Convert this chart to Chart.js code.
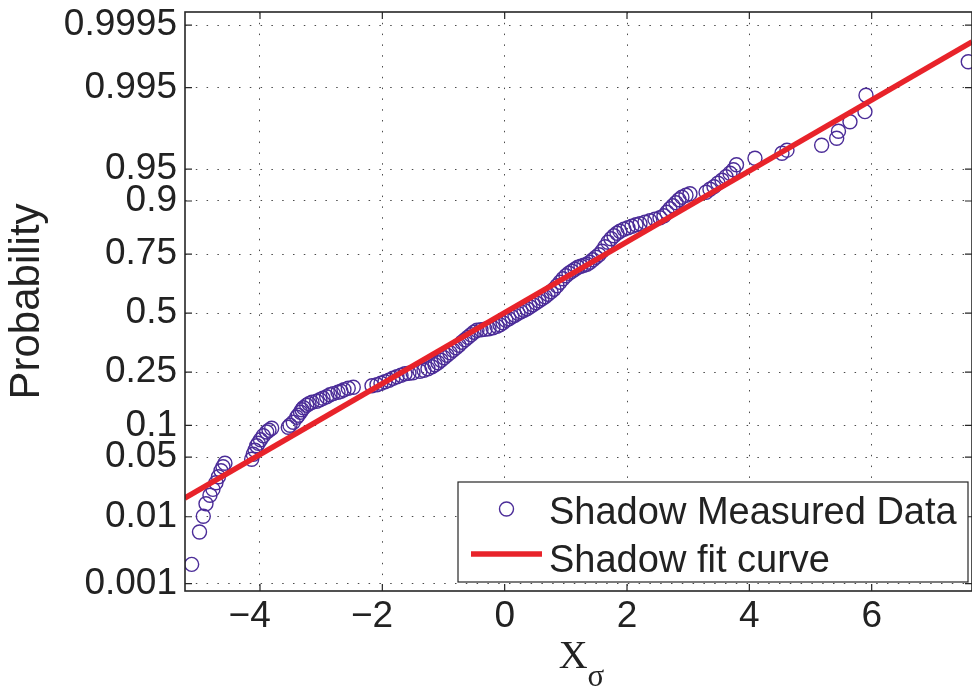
<!DOCTYPE html>
<html>
<head>
<meta charset="utf-8">
<script src="https://cdn.jsdelivr.net/npm/chart.js@4"></script>
<style>
  html, body { margin: 0; padding: 0; background: #fff; }
  canvas { display: block; }
</style>
</head>
<body>
<canvas id="normPlot" width="972" height="686"></canvas>
<script>
// axis ticks
const xTicks = [-4, -2, 0, 2, 4, 6];
const probTicks = [0.001, 0.01, 0.05, 0.1, 0.25, 0.5, 0.75, 0.9, 0.95, 0.995, 0.9995];
const probLabels = ['0.001', '0.01', '0.05', '0.1', '0.25', '0.5', '0.75', '0.9', '0.95', '0.995', '0.9995'];
const xLimits = [-5.226, 7.64];
const probLimits = [0.00075, 0.99971];

// measured shadowing (dB) vs. normal quantile of its plotting position
const measuredX = [
  -5.117, -4.989, -4.927, -4.883, -4.818, -4.769, -4.720, -4.679, -4.638, -4.605, -4.573,
  -4.136, -4.110, -4.082, -4.054, -4.028, -3.992, -3.946, -3.891, -3.853, -3.809,
  -3.538, -3.510, -3.456, -3.400, -3.374, -3.338, -3.314, -3.289, -3.237, -3.199, -3.150,
  -3.073, -3.020, -2.970, -2.910, -2.856, -2.802, -2.725, -2.676, -2.627, -2.557, -2.475,
  -2.169, -2.088, -2.022, -1.957, -1.891, -1.826, -1.761, -1.695, -1.630, -1.565, -1.499,
  -1.385, -1.319, -1.254, -1.189, -1.139, -1.090, -1.041, -0.992, -0.943, -0.894, -0.845,
  -0.796, -0.747, -0.698, -0.649, -0.600, -0.551, -0.502, -0.453, -0.387, -0.322, -0.257,
  -0.191, -0.126, -0.077, -0.028, 0.021, 0.070, 0.119, 0.168, 0.217, 0.266, 0.316,
  0.365, 0.414, 0.463, 0.512, 0.561, 0.610, 0.659, 0.708, 0.757, 0.806, 0.855,
  0.904, 0.953, 1.002, 1.051, 1.100, 1.149, 1.198, 1.247, 1.296, 1.345, 1.394,
  1.443, 1.492, 1.541, 1.591, 1.640, 1.689, 1.738, 1.787, 1.836, 1.885, 1.950,
  2.016, 2.081, 2.147, 2.212, 2.294, 2.375, 2.457, 2.539, 2.604, 2.653, 2.702,
  2.751, 2.800, 2.849, 2.898, 2.964, 3.029, 3.292, 3.356, 3.422, 3.487, 3.553,
  3.618, 3.683, 3.740, 3.790, 4.092, 4.533, 4.615, 5.182, 5.428, 5.457, 5.645,
  5.890, 5.907, 7.579
];
const measuredQ = [
  -2.870, -2.501, -2.321, -2.178, -2.081, -2.013, -1.938, -1.870, -1.801, -1.755, -1.715,
  -1.670, -1.613, -1.567, -1.515, -1.487, -1.447, -1.401, -1.358, -1.338, -1.315,
  -1.304, -1.281, -1.247, -1.190, -1.167, -1.133, -1.104, -1.081, -1.053, -1.035, -1.018,
  -1.007, -0.990, -0.973, -0.955, -0.933, -0.919, -0.904, -0.893, -0.875, -0.858, -0.847,
  -0.830, -0.818, -0.801, -0.784, -0.767, -0.744, -0.727, -0.710, -0.693, -0.687, -0.681,
  -0.664, -0.653, -0.635, -0.613, -0.590, -0.567, -0.538, -0.510, -0.481, -0.453, -0.424,
  -0.395, -0.367, -0.333, -0.304, -0.275, -0.247, -0.218, -0.195, -0.190, -0.184, -0.178,
  -0.167, -0.150, -0.133, -0.110, -0.081, -0.064, -0.041, -0.024, -0.001, 0.016, 0.033,
  0.050, 0.073, 0.096, 0.119, 0.142, 0.165, 0.187, 0.216, 0.245, 0.273, 0.313,
  0.353, 0.393, 0.427, 0.456, 0.479, 0.502, 0.525, 0.536, 0.547, 0.559, 0.582,
  0.610, 0.639, 0.667, 0.707, 0.759, 0.810, 0.850, 0.885, 0.913, 0.936, 0.959,
  0.976, 0.993, 1.010, 1.022, 1.039, 1.056, 1.073, 1.090, 1.113, 1.153, 1.193,
  1.227, 1.262, 1.296, 1.325, 1.347, 1.365, 1.382, 1.416, 1.445, 1.485, 1.519,
  1.559, 1.599, 1.639, 1.696, 1.770, 1.827, 1.862, 1.919, 1.999, 2.079, 2.187,
  2.302, 2.490, 2.873
];

// fitted normal, end points of the straight line
const fitX = [-5.23, 7.64];
const fitQ = [-2.113, 3.099];

const PURPLE = '#4b2c98';
const RED = '#e8232a';
const INK = '#222';
const SANS = '"Liberation Sans", Arial, sans-serif';
const SERIF = '"Liberation Serif", "Times New Roman", serif';

// inverse standard normal cdf (Acklam)
function probit(p) {
  const a = [-39.69683028665376, 220.9460984245205, -275.9285104469687, 138.3577518672690, -30.66479806614716, 2.506628277459239];
  const b = [-54.47609879822406, 161.5858368580409, -155.6989798598866, 66.80131188771972, -13.28068155288572];
  const c = [-0.007784894002430293, -0.3223964580411365, -2.400758277161838, -2.549732539343734, 4.374664141464968, 2.938163982698783];
  const d = [0.007784695709041462, 0.3224671290700398, 2.445134137142996, 3.754408661907416];
  const lo = 0.02425;
  let q, r;
  if (p < lo) {
    q = Math.sqrt(-2 * Math.log(p));
    return (((((c[0] * q + c[1]) * q + c[2]) * q + c[3]) * q + c[4]) * q + c[5]) /
      ((((d[0] * q + d[1]) * q + d[2]) * q + d[3]) * q + 1);
  }
  if (p > 1 - lo) return -probit(1 - p);
  q = p - 0.5;
  r = q * q;
  return (((((a[0] * r + a[1]) * r + a[2]) * r + a[3]) * r + a[4]) * r + a[5]) * q /
    (((((b[0] * r + b[1]) * r + b[2]) * r + b[3]) * r + b[4]) * r + 1);
}

function fmtX(v) {
  // minus sign hangs to the left so the digit sits on the tick
  return v < 0 ? '\u2212' + Math.abs(v) + '  ' : String(v);
}

// box, inward ticks, legend and x label
const frame = {
  id: 'frame',
  afterDraw(chart) {
    const { ctx, chartArea: a, scales: { x, y } } = chart;
    ctx.save();

    ctx.strokeStyle = '#262626';
    ctx.lineWidth = 1.2;
    ctx.beginPath();
    x.ticks.forEach(t => {
      const px = x.getPixelForValue(t.value);
      ctx.moveTo(px, a.bottom); ctx.lineTo(px, a.bottom - 7);
      ctx.moveTo(px, a.top); ctx.lineTo(px, a.top + 7);
    });
    y.ticks.forEach(t => {
      const py = y.getPixelForValue(t.value);
      ctx.moveTo(a.left, py); ctx.lineTo(a.left + 7, py);
      ctx.moveTo(a.right, py); ctx.lineTo(a.right - 7, py);
    });
    ctx.stroke();
    ctx.lineWidth = 1.6;
    ctx.strokeRect(a.left, a.top, a.right - a.left, a.bottom - a.top);

    // legend
    const lx = 458, ly = 482, lw = a.right - 4 - lx, lh = a.bottom - 9 - ly;
    ctx.fillStyle = '#fff';
    ctx.fillRect(lx, ly, lw, lh);
    ctx.lineWidth = 1.2;
    ctx.strokeStyle = '#262626';
    ctx.strokeRect(lx, ly, lw, lh);

    const ds = chart.data.datasets;
    ctx.strokeStyle = ds[0].pointBorderColor;
    ctx.lineWidth = ds[0].pointBorderWidth;
    ctx.beginPath();
    ctx.arc(lx + 48.5, ly + 27, ds[0].pointRadius, 0, Math.PI * 2);
    ctx.stroke();

    ctx.strokeStyle = ds[1].borderColor;
    ctx.lineWidth = ds[1].borderWidth;
    ctx.beginPath();
    ctx.moveTo(lx + 13, ly + 72);
    ctx.lineTo(lx + 84, ly + 72);
    ctx.stroke();

    ctx.fillStyle = INK;
    ctx.font = '38px ' + SANS;
    ctx.textAlign = 'left';
    ctx.textBaseline = 'alphabetic';
    ctx.fillText(ds[0].label, lx + 91, ly + 41.5);
    ctx.fillText(ds[1].label, lx + 91, ly + 89.5);

    // x label with subscript sigma
    const cx = (a.left + a.right) / 2 + 3;
    ctx.font = '40px ' + SERIF;
    const wX = ctx.measureText('X').width;
    ctx.font = '31px ' + SERIF;
    const wS = ctx.measureText('\u03c3').width;
    const x0 = cx - (wX + wS) / 2;
    ctx.font = '40px ' + SERIF;
    ctx.fillText('X', x0, 668);
    ctx.font = '31px ' + SERIF;
    ctx.fillText('\u03c3', x0 + wX, 686);

    ctx.restore();
  }
};

new Chart(document.getElementById('normPlot'), {
  type: 'scatter',
  data: {
    datasets: [
      {
        label: 'Shadow Measured Data',
        data: measuredX.map((v, i) => ({ x: v, y: measuredQ[i] })),
        showLine: false,
        pointStyle: 'circle',
        pointRadius: 7,
        pointBorderWidth: 1.4,
        pointBorderColor: PURPLE,
        pointBackgroundColor: 'rgba(0,0,0,0)',
        order: 1
      },
      {
        label: 'Shadow fit curve',
        data: fitX.map((v, i) => ({ x: v, y: fitQ[i] })),
        showLine: true,
        borderColor: RED,
        borderWidth: 5.5,
        pointRadius: 0,
        order: 0
      }
    ]
  },
  options: {
    responsive: false,
    animation: false,
    events: [],
    layout: { autoPadding: false, padding: { top: 12, left: 0, right: 0, bottom: 0 } },
    plugins: { legend: { display: false }, tooltip: { enabled: false } },
    scales: {
      x: {
        type: 'linear',
        min: xLimits[0],
        max: xLimits[1],
        afterBuildTicks: s => { s.ticks = xTicks.map(v => ({ value: v })); },
        afterFit: s => {
          s.height = 95;
          s.paddingLeft = s.paddingRight = 0;
        },
        grid: { color: '#4a4a4a', lineWidth: 1, drawTicks: false },
        border: { display: false, dash: [1.5, 9.3] },
        ticks: {
          autoSkip: false, maxRotation: 0, padding: 4, color: INK,
          font: { family: SANS, size: 37 },
          callback: v => fmtX(v)
        }
      },
      y: {
        type: 'linear',
        min: probit(probLimits[0]),
        max: probit(probLimits[1]),
        afterBuildTicks: s => { s.ticks = probTicks.map(p => ({ value: probit(p) })); },
        afterFit: s => {
          s.width = 185;
          s.paddingTop = s.paddingBottom = 0;
        },
        grid: { color: '#4a4a4a', lineWidth: 1, drawTicks: false },
        border: { display: false, dash: [1.5, 9.3] },
        title: {
          display: true, text: 'Probability', color: INK,
          font: { family: SANS, size: 42 },
          padding: { top: 2, bottom: 0 }
        },
        ticks: {
          autoSkip: false, padding: 8, color: INK,
          font: { family: SANS, size: 37 },
          callback: (v, i) => probLabels[i]
        }
      }
    }
  },
  plugins: [frame]
});
</script>
</body>
</html>
